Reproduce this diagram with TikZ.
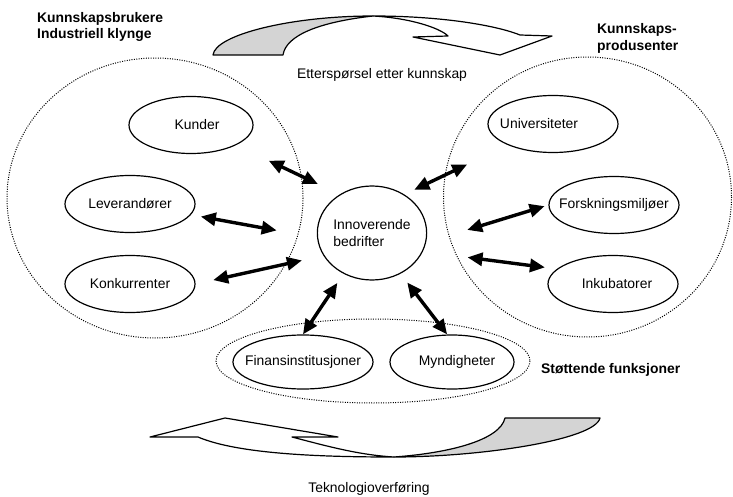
\documentclass[tikz,border=0pt]{standalone}
\usepackage{fontspec}
\setmainfont{Liberation Sans}
\usepackage{tikz}
\usetikzlibrary{shapes,arrows.meta}

\begin{document}
\begin{tikzpicture}[x=1pt, y=-1pt, font=\fontsize{13.9}{16.5}\selectfont,
    actor/.style={draw, ellipse, line width=1.2pt, minimum width=130pt, minimum height=57pt, inner sep=0pt},
    link/.style={line width=3.4pt, {Triangle[length=15pt,width=13pt]}-{Triangle[length=15pt,width=13pt]}},
    zone/.style={line width=1pt, dash pattern=on 1pt off 1.4pt},
    ribbon/.style={draw, line width=1.2pt, line join=round},
    title/.style={font=\fontsize{13.9}{16.5}\selectfont\bfseries, align=left, anchor=west, inner sep=0pt}]
    \useasboundingbox (0,0) rectangle (733,497);

    \draw[zone] (155,198) ellipse [x radius=148, y radius=140];
    \draw[zone] (587.5,197) ellipse [x radius=144, y radius=140];
    \draw[zone] (373,361) ellipse [x radius=157, y radius=42];

    \node [actor, minimum width=124pt] (kunder) at (191,125) {\makebox[0pt]{\hspace{12pt}Kunder}};
    \node [actor] (lev) at (130,204) {\makebox[0pt]{Leverandører}};
    \node [actor] (konk) at (130,284) {\makebox[0pt]{Konkurrenter}};
    \node [actor] (univ) at (553,124) {\makebox[0pt]{Universiteter\hspace{28pt}}};
    \node [actor] (forsk) at (614,205) {\makebox[0pt]{Forskningsmiljøer}};
    \node [actor] (inkub) at (613,284) {\makebox[0pt]{\hspace{8pt}Inkubatorer}};
    \node [actor, minimum width=140pt, minimum height=54pt] (finans) at (303,362) {\makebox[0pt]{Finansinstitusjoner}};
    \node [actor, minimum width=124pt, minimum height=54pt] (mynd) at (452,362) {\makebox[0pt]{\hspace{10pt}Myndigheter}};
    \node [actor, minimum width=108pt, minimum height=94pt, align=left] (innov) at (372,233) {Innoverende\\bedrifter};

    \draw[link, shorten <=36pt, shorten >=24pt] (kunder.-24) -- (innov.130);
    \draw[link, shorten <=10pt, shorten >=41pt] (lev.-10) -- (innov.185);
    \draw[link, shorten <=18pt, shorten >=22pt] (konk.east) -- (innov.205);
    \draw[link, shorten <=11pt] (innov.235) -- (finans.north);
    \draw[link, shorten <=11pt] (innov.-55) -- (mynd.100);
    \draw[link, shorten <=45pt, shorten >=11pt] (univ.205) -- (innov.50);
    \draw[link, shorten <=4pt, shorten >=43pt] (forsk.west) -- (innov.-10);
    \draw[link, shorten <=12pt, shorten >=45pt] (inkub.165) -- (innov.-20);

    \draw[ribbon, fill=black!17] (213,55) .. controls (215,35) and (290,16) .. (373,16) .. controls (320,22) and (286,35) .. (283,55) -- cycle;
    \draw[ribbon, fill=white] (373,16) .. controls (440,16) and (495,25) .. (520,35) -- (552,36) -- (500,55) -- (413,37) -- (448,36) .. controls (440,28) and (410,18) .. (373,16) -- cycle;
    \draw[ribbon, fill=white] (150,437) -- (225,418) -- (338,437) -- (292,437) .. controls (330,447) and (360,455) .. (394,457) .. controls (330,457) and (240,455) .. (198,437) -- cycle;
    \draw[ribbon, fill=black!17] (394,457) .. controls (450,453) and (500,440) .. (505,418) -- (600,418) .. controls (595,440) and (480,457) .. (394,457) -- cycle;

    \node [title] (users) at (37,27) {Kunnskapsbrukere\\Industriell klynge};
    \node [title] (producers) at (597,38.5) {Kunnskaps-\\produsenter};
    \node [title] (support) at (541,370) {Støttende funksjoner};
    \node (demand) at (382,75) {Etterspørsel etter kunnskap};
    \node (transfer) at (369,489) {Teknologioverføring};
\end{tikzpicture}
\end{document}
